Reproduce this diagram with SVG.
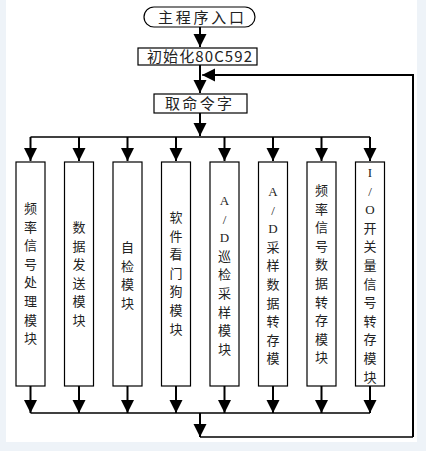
<svg xmlns="http://www.w3.org/2000/svg" width="426" height="451" viewBox="0 0 426 451">
<defs>
<marker id="ah" markerUnits="userSpaceOnUse" markerWidth="14" markerHeight="14" viewBox="0 0 14 14" refX="13" refY="7" orient="auto">
<path d="M0,0.5 L13,7 L0,13.5 Z" fill="#000"/>
</marker>
<style>
.box{fill:#fff;stroke:#000;stroke-width:1.2}
.t{font-family:"Noto Sans CJK SC","Liberation Sans",sans-serif;font-size:15px;fill:#222}
.v{font-family:"Noto Sans CJK SC","Liberation Sans",sans-serif;font-size:13px;fill:#222;text-anchor:middle}
.lat{font-family:"Liberation Serif","Noto Sans CJK SC",serif;font-size:13px}
.stem{fill:none;stroke:#000;stroke-width:2;marker-end:url(#ah)}
.bus{fill:none;stroke:#000;stroke-width:1.3}
</style>
</defs>
<rect x="0" y="0" width="426" height="451" fill="#eef3f8"/>
<rect x="6" y="0" width="411" height="442" fill="#fff"/>

<g id="connectors">
<path class="stem" d="M200,27 V47"/>
<path class="stem" d="M200,65 V93"/>
<path class="stem" d="M200,113 V136"/>
<path class="bus" d="M30.5,137 H370"/>
<path class="stem" d="M30.5,137 V161"/>
<path class="stem" d="M79,137 V161"/>
<path class="stem" d="M127.5,137 V161"/>
<path class="stem" d="M176,137 V161"/>
<path class="stem" d="M224.5,137 V161"/>
<path class="stem" d="M273,137 V161"/>
<path class="stem" d="M321.5,137 V161"/>
<path class="stem" d="M370,137 V161"/>
<path class="stem" d="M30.5,386 V413"/>
<path class="stem" d="M79,386 V413"/>
<path class="stem" d="M127.5,386 V413"/>
<path class="stem" d="M176,386 V413"/>
<path class="stem" d="M224.5,386 V413"/>
<path class="stem" d="M273,386 V413"/>
<path class="stem" d="M321.5,386 V413"/>
<path class="stem" d="M370,386 V413"/>
<path class="bus" d="M30.5,413 H370"/>
<path class="stem" d="M200,413 V437"/>
<path class="bus" d="M200,437 H413"/>
<path fill="none" stroke="#000" stroke-width="2" d="M413,437 V75 H214" />
<path fill="none" stroke="#000" stroke-width="1.3" marker-end="url(#ah)" d="M214,75 H202"/>
</g>

<g id="start">
<rect class="box" x="144" y="7" width="111" height="20" rx="10" ry="10"/>
<text class="t" x="158" y="22.5" textLength="86" lengthAdjust="spacing">主程序入口</text>
</g>
<g id="init">
<rect class="box" x="138" y="48" width="119" height="17"/>
<text class="t" x="147" y="62" textLength="105" lengthAdjust="spacing">初始化80C592</text>
</g>
<g id="fetch">
<rect class="box" x="154" y="94" width="93" height="19"/>
<text class="t" x="165" y="109" textLength="67" lengthAdjust="spacing">取命令字</text>
</g>

<g id="m1">
<rect class="box" x="16" y="162" width="29" height="224"/>
<text class="v" x="30.5" y="213"><tspan x="30.5">频</tspan><tspan x="30.5" dy="18.6">率</tspan><tspan x="30.5" dy="18.6">信</tspan><tspan x="30.5" dy="18.6">号</tspan><tspan x="30.5" dy="18.6">处</tspan><tspan x="30.5" dy="18.6">理</tspan><tspan x="30.5" dy="18.6">模</tspan><tspan x="30.5" dy="18.6">块</tspan></text>
</g>
<g id="m2">
<rect class="box" x="64.5" y="162" width="29" height="224"/>
<text class="v" x="79" y="232"><tspan x="79">数</tspan><tspan x="79" dy="18.6">据</tspan><tspan x="79" dy="18.6">发</tspan><tspan x="79" dy="18.6">送</tspan><tspan x="79" dy="18.6">模</tspan><tspan x="79" dy="18.6">块</tspan></text>
</g>
<g id="m3">
<rect class="box" x="113" y="162" width="29" height="224"/>
<text class="v" x="127.5" y="252"><tspan x="127.5">自</tspan><tspan x="127.5" dy="18.6">检</tspan><tspan x="127.5" dy="18.6">模</tspan><tspan x="127.5" dy="18.6">块</tspan></text>
</g>
<g id="m4">
<rect class="box" x="161.5" y="162" width="29" height="224"/>
<text class="v" x="176" y="222"><tspan x="176">软</tspan><tspan x="176" dy="18.6">件</tspan><tspan x="176" dy="18.6">看</tspan><tspan x="176" dy="18.6">门</tspan><tspan x="176" dy="18.6">狗</tspan><tspan x="176" dy="18.6">模</tspan><tspan x="176" dy="18.6">块</tspan></text>
</g>
<g id="m5">
<rect class="box" x="210" y="162" width="29" height="224"/>
<text class="v" x="224.5" y="205"><tspan x="224.5" class="lat">A</tspan><tspan x="224.5" dy="18.6" class="lat">/</tspan><tspan x="224.5" dy="18.6" class="lat">D</tspan><tspan x="224.5" dy="18.6">巡</tspan><tspan x="224.5" dy="18.6">检</tspan><tspan x="224.5" dy="18.6">采</tspan><tspan x="224.5" dy="18.6">样</tspan><tspan x="224.5" dy="18.6">模</tspan><tspan x="224.5" dy="18.6">块</tspan></text>
</g>
<g id="m6">
<rect class="box" x="258.5" y="162" width="29" height="224"/>
<text class="v" x="273" y="196"><tspan x="273" class="lat">A</tspan><tspan x="273" dy="18.6" class="lat">/</tspan><tspan x="273" dy="18.6" class="lat">D</tspan><tspan x="273" dy="18.6">采</tspan><tspan x="273" dy="18.6">样</tspan><tspan x="273" dy="18.6">数</tspan><tspan x="273" dy="18.6">据</tspan><tspan x="273" dy="18.6">转</tspan><tspan x="273" dy="18.6">存</tspan><tspan x="273" dy="18.6">模</tspan></text>
</g>
<g id="m7">
<rect class="box" x="307" y="162" width="29" height="224"/>
<text class="v" x="321.5" y="195"><tspan x="321.5">频</tspan><tspan x="321.5" dy="18.6">率</tspan><tspan x="321.5" dy="18.6">信</tspan><tspan x="321.5" dy="18.6">号</tspan><tspan x="321.5" dy="18.6">数</tspan><tspan x="321.5" dy="18.6">据</tspan><tspan x="321.5" dy="18.6">转</tspan><tspan x="321.5" dy="18.6">存</tspan><tspan x="321.5" dy="18.6">模</tspan><tspan x="321.5" dy="18.6">块</tspan></text>
</g>
<g id="m8">
<rect class="box" x="355.5" y="162" width="29" height="224"/>
<text class="v" x="370" y="177"><tspan x="370" class="lat">I</tspan><tspan x="370" dy="18.6" class="lat">/</tspan><tspan x="370" dy="18.6" class="lat">O</tspan><tspan x="370" dy="18.6">开</tspan><tspan x="370" dy="18.6">关</tspan><tspan x="370" dy="18.6">量</tspan><tspan x="370" dy="18.6">信</tspan><tspan x="370" dy="18.6">号</tspan><tspan x="370" dy="18.6">转</tspan><tspan x="370" dy="18.6">存</tspan><tspan x="370" dy="18.6">模</tspan><tspan x="370" dy="18.6">块</tspan></text>
</g>
</svg>
